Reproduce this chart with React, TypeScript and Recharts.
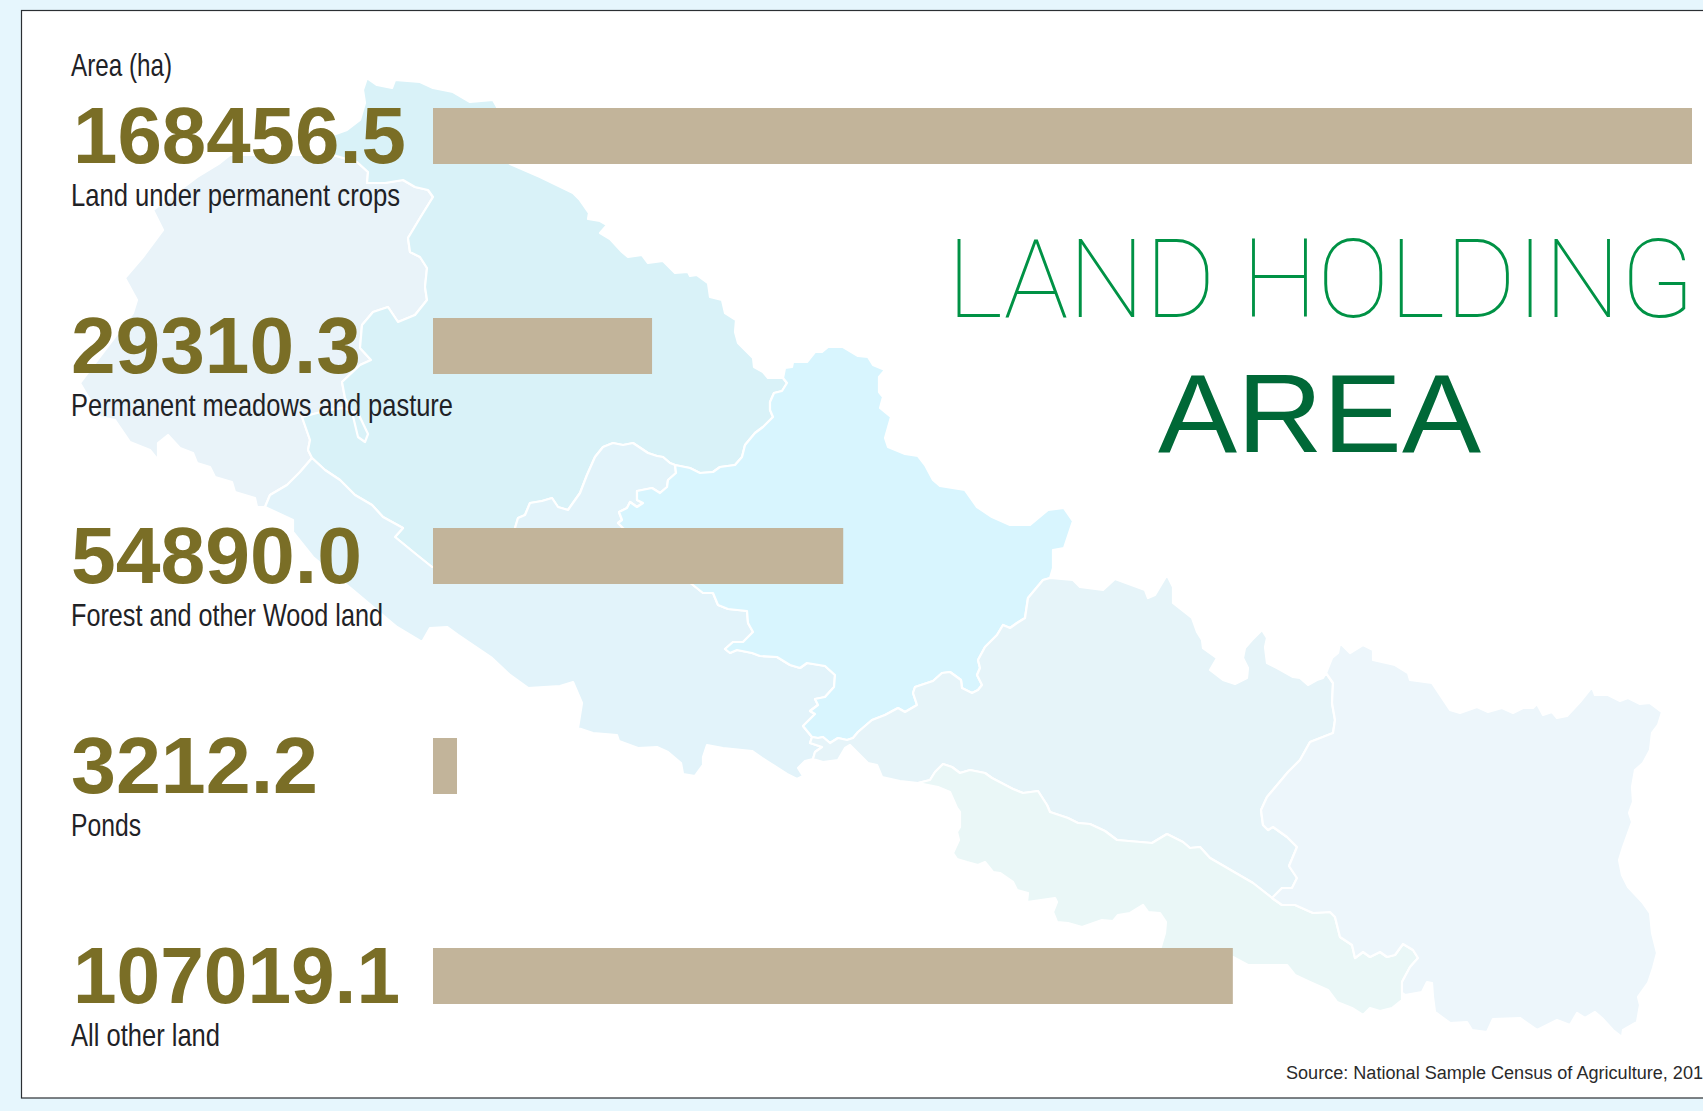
import React from "react";
import { Bar, BarChart, XAxis, YAxis } from "recharts";

const categories = [
  "Land under permanent crops",
  "Permanent meadows and pasture",
  "Forest and other Wood land",
  "Ponds",
  "All other land",
];
const areaHa = [168456.5, 29310.3, 54890.0, 3212.2, 107019.1];

// measured text widths, the reference face is a condensed Helvetica
const valueWidths = [333, 290, 291, 247, 327];
const valueOffsets = [2, 0, 0, 0, 2];
const labelWidths = [329, 382, 312, 70, 149];

const chartData = categories.map((name, i) => ({ name, area: areaHa[i] }));

type Pt = number[];

// map backdrop outlines, shared borders are kept once and reversed where needed
const topEdgeB: Pt[] = [
  [333, 135], [347, 130], [360, 120], [365, 103], [363, 90], [367, 78], [377, 85], [392, 88], [395, 80], [420, 82],
  [433, 88], [453, 92], [470, 102], [493, 100], [497, 107], [505, 160], [510, 164], [540, 177], [573, 193], [580, 200],
  [589, 213], [588, 219], [600, 221], [607, 225], [600, 233], [610, 239], [622, 252], [628, 257], [642, 255],
  [648, 263], [663, 261], [675, 273], [688, 272], [690, 276], [697, 275], [708, 283], [710, 297], [722, 300],
  [725, 313], [736, 320], [735, 332], [738, 343], [753, 358], [754, 367], [763, 372], [768, 378], [783, 378],
];
const borderBD: Pt[] = [
  [783, 378], [787, 383], [782, 391], [774, 393], [770, 402], [770, 410], [773, 417], [763, 427], [755, 433],
  [745, 445], [742, 457], [735, 465], [720, 467], [713, 472], [700, 473], [690, 468], [675, 465],
];
const fingerWest: Pt[] = [
  [675, 465], [670, 463], [663, 457], [657, 456], [648, 453], [633, 443], [623, 445], [613, 443], [603, 447],
  [595, 457], [587, 475], [580, 493], [568, 510], [558, 507], [552, 498], [542, 501], [530, 503], [525, 515],
  [518, 518], [515, 528], [510, 560],
];
const borderBC: Pt[] = [
  [312, 458], [325, 470], [340, 480], [355, 495], [372, 505], [383, 517], [403, 528], [395, 537], [417, 555], [432, 567],
];
const borderAC: Pt[] = [[265, 507], [270, 495], [287, 485], [300, 472], [312, 458]];
const borderAB: Pt[] = [
  [333, 155], [357, 162], [368, 172], [367, 183], [385, 183], [403, 180], [415, 187], [428, 190], [433, 197], [420, 218],
  [408, 238], [410, 252], [420, 257], [427, 268], [425, 287], [427, 300], [415, 315], [398, 322], [388, 307], [373, 312],
  [362, 325], [360, 348], [371, 360], [360, 365], [342, 382], [345, 398], [352, 412], [358, 437], [365, 442], [368, 434],
  [358, 413], [342, 408], [325, 411], [302, 417], [310, 440], [308, 450], [312, 458],
];
const westEdgeA: Pt[] = [
  [265, 507], [257, 507], [255, 498], [235, 492], [232, 482], [215, 477], [210, 467], [197, 463], [193, 453], [180, 448],
  [168, 435], [158, 443], [158, 460], [150, 450], [130, 442], [115, 420], [100, 417], [80, 383], [133, 313], [137, 300],
  [125, 278], [143, 257], [163, 230], [153, 210], [197, 177], [220, 163], [230, 155], [333, 155],
];
const fingerEast: Pt[] = [
  [675, 465], [676, 473], [668, 480], [667, 487], [660, 493], [652, 488], [637, 491], [637, 500], [643, 503], [637, 507],
  [630, 502], [627, 508], [619, 512], [622, 520], [618, 523], [623, 528], [693, 585],
];
const borderCD: Pt[] = [
  [693, 585], [703, 593], [713, 593], [718, 605], [728, 609], [747, 611], [748, 623], [753, 632], [743, 642], [733, 642],
  [725, 649], [730, 653], [737, 650], [752, 653], [760, 656], [777, 657], [790, 665], [800, 668], [807, 663], [825, 666],
  [835, 675], [834, 687], [825, 697], [815, 699], [818, 705], [810, 711], [815, 714], [803, 726], [812, 737],
];
const borderCE: Pt[] = [[812, 737], [810, 743], [822, 747], [815, 752], [813, 759]];
const southEdgeC: Pt[] = [
  [813, 759], [805, 761], [798, 768], [803, 776], [797, 779], [787, 774], [773, 765], [762, 758], [752, 751], [723, 748],
  [707, 745], [703, 757], [703, 765], [695, 776], [683, 774], [681, 763], [668, 752], [657, 747], [638, 748], [619, 741],
  [617, 735], [593, 733], [578, 728], [582, 703], [573, 682], [560, 686], [528, 688], [510, 675], [492, 658], [458, 635],
  [447, 627], [430, 628], [422, 642], [397, 627], [353, 590], [313, 557], [293, 532], [293, 520], [265, 507],
];
const topEdgeD: Pt[] = [
  [783, 378], [785, 368], [792, 367], [793, 362], [807, 362], [815, 352], [822, 352], [828, 347], [843, 347], [858, 356],
  [868, 357], [873, 365], [885, 370], [879, 377], [879, 392], [883, 397], [880, 408], [891, 417], [885, 438], [888, 447],
  [905, 454], [918, 456], [925, 465], [933, 480], [940, 486], [965, 490], [977, 507], [992, 517], [1010, 525], [1030, 525],
  [1048, 510], [1064, 508], [1073, 521], [1064, 548], [1053, 550], [1053, 568], [1050, 578],
];
const borderDE: Pt[] = [
  [1050, 578], [1043, 580], [1028, 598], [1025, 618], [1017, 623], [1010, 628], [1003, 625], [997, 635], [985, 647],
  [978, 660], [980, 668], [977, 675], [982, 685], [978, 690], [972, 693], [962, 688], [961, 680], [950, 672], [942, 673],
  [933, 681], [915, 687], [913, 693], [917, 705], [905, 712], [898, 708], [885, 715], [872, 720], [858, 732], [853, 738],
  [847, 740], [838, 738], [830, 743], [823, 737], [818, 738], [812, 737],
];
const southEdgeE: Pt[] = [
  [813, 759], [823, 762], [838, 760], [845, 748], [850, 745], [855, 750], [862, 757], [868, 763], [877, 765], [882, 777],
  [900, 781], [918, 783],
];
const borderEF: Pt[] = [
  [918, 783], [930, 780], [935, 772], [943, 764], [952, 767], [960, 773], [970, 770], [985, 773], [992, 778], [1013, 789],
  [1023, 793], [1038, 791], [1047, 805], [1050, 812], [1068, 818], [1078, 823], [1090, 824], [1105, 831], [1117, 840],
  [1152, 843], [1167, 834], [1183, 842], [1190, 848], [1200, 847], [1210, 858], [1253, 883], [1272, 898],
];
const borderEG: Pt[] = [
  [1272, 898], [1282, 888], [1292, 888], [1297, 878], [1289, 866], [1297, 847], [1287, 837], [1273, 827], [1268, 830],
  [1263, 825], [1261, 810], [1267, 797], [1288, 772], [1300, 760], [1310, 742], [1333, 733], [1335, 720], [1332, 703],
  [1333, 683], [1326, 673],
];
const northEdgeE: Pt[] = [
  [1050, 578], [1073, 580], [1080, 587], [1103, 590], [1115, 579], [1145, 590], [1148, 598], [1155, 595], [1167, 575],
  [1173, 587], [1173, 603], [1192, 618], [1197, 632], [1202, 640], [1203, 648], [1217, 658], [1210, 670], [1223, 680],
  [1235, 684], [1247, 678], [1248, 668], [1243, 658], [1245, 648], [1252, 640], [1262, 630], [1267, 638], [1265, 647],
  [1267, 663], [1277, 668], [1293, 677], [1300, 678], [1308, 685], [1317, 680], [1323, 678], [1326, 673],
];
const outerEdgeG: Pt[] = [
  [1326, 673], [1332, 658], [1338, 653], [1340, 643], [1350, 653], [1363, 645], [1373, 650], [1373, 660], [1395, 665],
  [1408, 673], [1410, 680], [1432, 683], [1450, 710], [1460, 713], [1477, 707], [1488, 712], [1502, 708], [1513, 713],
  [1523, 708], [1533, 708], [1537, 704], [1543, 715], [1552, 712], [1557, 718], [1567, 716], [1580, 702], [1592, 687],
  [1595, 695], [1608, 695], [1620, 701], [1628, 698], [1640, 704], [1650, 703], [1662, 712], [1658, 725], [1652, 733],
  [1650, 750], [1643, 763], [1635, 770], [1632, 787], [1633, 802], [1629, 813], [1632, 822], [1623, 847], [1619, 860],
  [1622, 875], [1628, 887], [1643, 903], [1650, 913], [1652, 933], [1657, 953], [1653, 968], [1648, 983], [1638, 997],
  [1640, 1005], [1637, 1022], [1623, 1030], [1622, 1037], [1613, 1030], [1602, 1018], [1595, 1012], [1585, 1018],
  [1577, 1013], [1570, 1025], [1557, 1020], [1537, 1030], [1520, 1018], [1493, 1019], [1487, 1032], [1472, 1030],
  [1467, 1022], [1450, 1023], [1435, 1012], [1433, 997], [1432, 983], [1427, 982], [1422, 992], [1405, 995], [1402, 993],
];
const borderFG: Pt[] = [
  [1402, 993], [1402, 982], [1410, 967], [1418, 958], [1413, 950], [1403, 944], [1395, 955], [1387, 957], [1380, 952],
  [1370, 957], [1363, 952], [1355, 958], [1352, 945], [1340, 937], [1335, 917], [1330, 912], [1313, 913], [1295, 905],
  [1282, 905], [1272, 898],
];
const southEdgeF: Pt[] = [
  [1402, 993], [1402, 1000], [1392, 1008], [1380, 1011], [1370, 1008], [1363, 1015], [1352, 1008], [1337, 1002],
  [1328, 990], [1310, 982], [1295, 975], [1287, 965], [1248, 965], [1233, 957], [1160, 950], [1165, 933], [1166, 922],
  [1160, 913], [1148, 912], [1143, 905], [1130, 913], [1118, 915], [1113, 921], [1102, 920], [1082, 927], [1068, 923],
  [1057, 922], [1053, 912], [1057, 902], [1055, 898], [1027, 902], [1028, 893], [1017, 890], [1013, 882], [1000, 873],
  [993, 872], [985, 862], [978, 865], [967, 862], [957, 859], [953, 853], [959, 840], [957, 832], [960, 827], [960, 812],
  [957, 808], [950, 792], [938, 787], [918, 783],
];

const rev = (p: Pt[]) => [...p].reverse();

const provinces = [
  { fill: "#e9f3f9", pts: [...borderAB, ...rev(borderAC), ...westEdgeA] },
  { fill: "#d9f2f8", pts: [...topEdgeB, ...borderBD, ...fingerWest, ...rev(borderBC), ...rev(borderAB)] },
  {
    fill: "#e2f3fa",
    pts: [...borderBC, ...rev(fingerWest), ...fingerEast, ...borderCD, ...borderCE, ...southEdgeC, ...borderAC],
  },
  { fill: "#d8f5fe", pts: [...topEdgeD, ...borderDE, ...rev(borderCD), ...rev(fingerEast), ...rev(borderBD)] },
  {
    fill: "#e6f4f9",
    pts: [...northEdgeE, ...rev(borderEG), ...rev(borderEF), ...rev(southEdgeE), ...rev(borderCE), ...rev(borderDE)],
  },
  { fill: "#eaf7f7", pts: [...borderEF, ...rev(borderFG), ...southEdgeF] },
  { fill: "#edf6fb", pts: [...outerEdgeG, ...borderFG, ...borderEG] },
];

const sans = "'Liberation Sans', Arial, sans-serif";

// one row of text on the left: the big value with its category under it
function RowTick({ y, index, payload }: any) {
  const value = areaHa[index].toFixed(1);
  return (
    <g>
      <text
        x={71 + valueOffsets[index]}
        y={y + 27}
        fontFamily={sans}
        fontWeight={700}
        fontSize={80}
        fill="#7a6e26"
        textLength={valueWidths[index]}
        lengthAdjust="spacingAndGlyphs"
      >
        {value}
      </text>
      <text
        x={71}
        y={y + 70}
        fontFamily={sans}
        fontSize={32}
        fill="#1f2226"
        textLength={labelWidths[index]}
        lengthAdjust="spacingAndGlyphs"
      >
        {payload.value}
      </text>
    </g>
  );
}

export default function App() {
  return (
    <div
      style={{
        position: "absolute",
        left: 0,
        top: 0,
        width: 1703,
        height: 1111,
        overflow: "hidden",
        background: "#e6f6fd",
      }}
    >
      <svg width={1703} height={1111} style={{ position: "absolute", left: 0, top: 0 }}>
        <rect x={21.5} y={10.5} width={1720} height={1087.5} fill="#fff" stroke="#2b2f33" strokeWidth={1.2} />
        {provinces.map((p, i) => (
          <polygon
            key={i}
            points={p.pts.map((c) => c.join(",")).join(" ")}
            fill={p.fill}
            stroke="#fff"
            strokeWidth={2.2}
            strokeLinejoin="round"
          />
        ))}
      </svg>

      <div style={{ position: "absolute", left: 0, top: 0 }}>
        <BarChart
          width={1703}
          height={1111}
          data={chartData}
          layout="vertical"
          margin={{ top: 31, right: 11, bottom: 30, left: 1 }}
        >
          <XAxis type="number" dataKey="area" domain={[0, 168456.5]} hide />
          <YAxis
            type="category"
            dataKey="name"
            width={432}
            axisLine={false}
            tickLine={false}
            interval={0}
            tick={<RowTick />}
          />
          <Bar dataKey="area" fill="#c2b49a" barSize={56} isAnimationActive={false} />
          <text x={71} y={76} fontFamily={sans} fontSize={32} fill="#1f2226" textLength={101} lengthAdjust="spacingAndGlyphs">
            Area (ha)
          </text>
          <text
            transform="translate(947 317) scale(0.983 1)"
            fontFamily="Roboto, Lato, sans-serif"
            fontWeight={100}
            fontSize={110}
            fill="#009245"
          >
            LAND HOLDING
          </text>
          <text
            x={1158}
            y={452}
            fontFamily={sans}
            fontSize={112}
            fill="#006837"
            textLength={323}
            lengthAdjust="spacingAndGlyphs"
          >
            AREA
          </text>
          <text x={1286} y={1079} fontFamily={sans} fontSize={18} fill="#2a2a2a" textLength={417} lengthAdjust="spacingAndGlyphs">
            Source: National Sample Census of Agriculture, 201
          </text>
        </BarChart>
      </div>
    </div>
  );
}
